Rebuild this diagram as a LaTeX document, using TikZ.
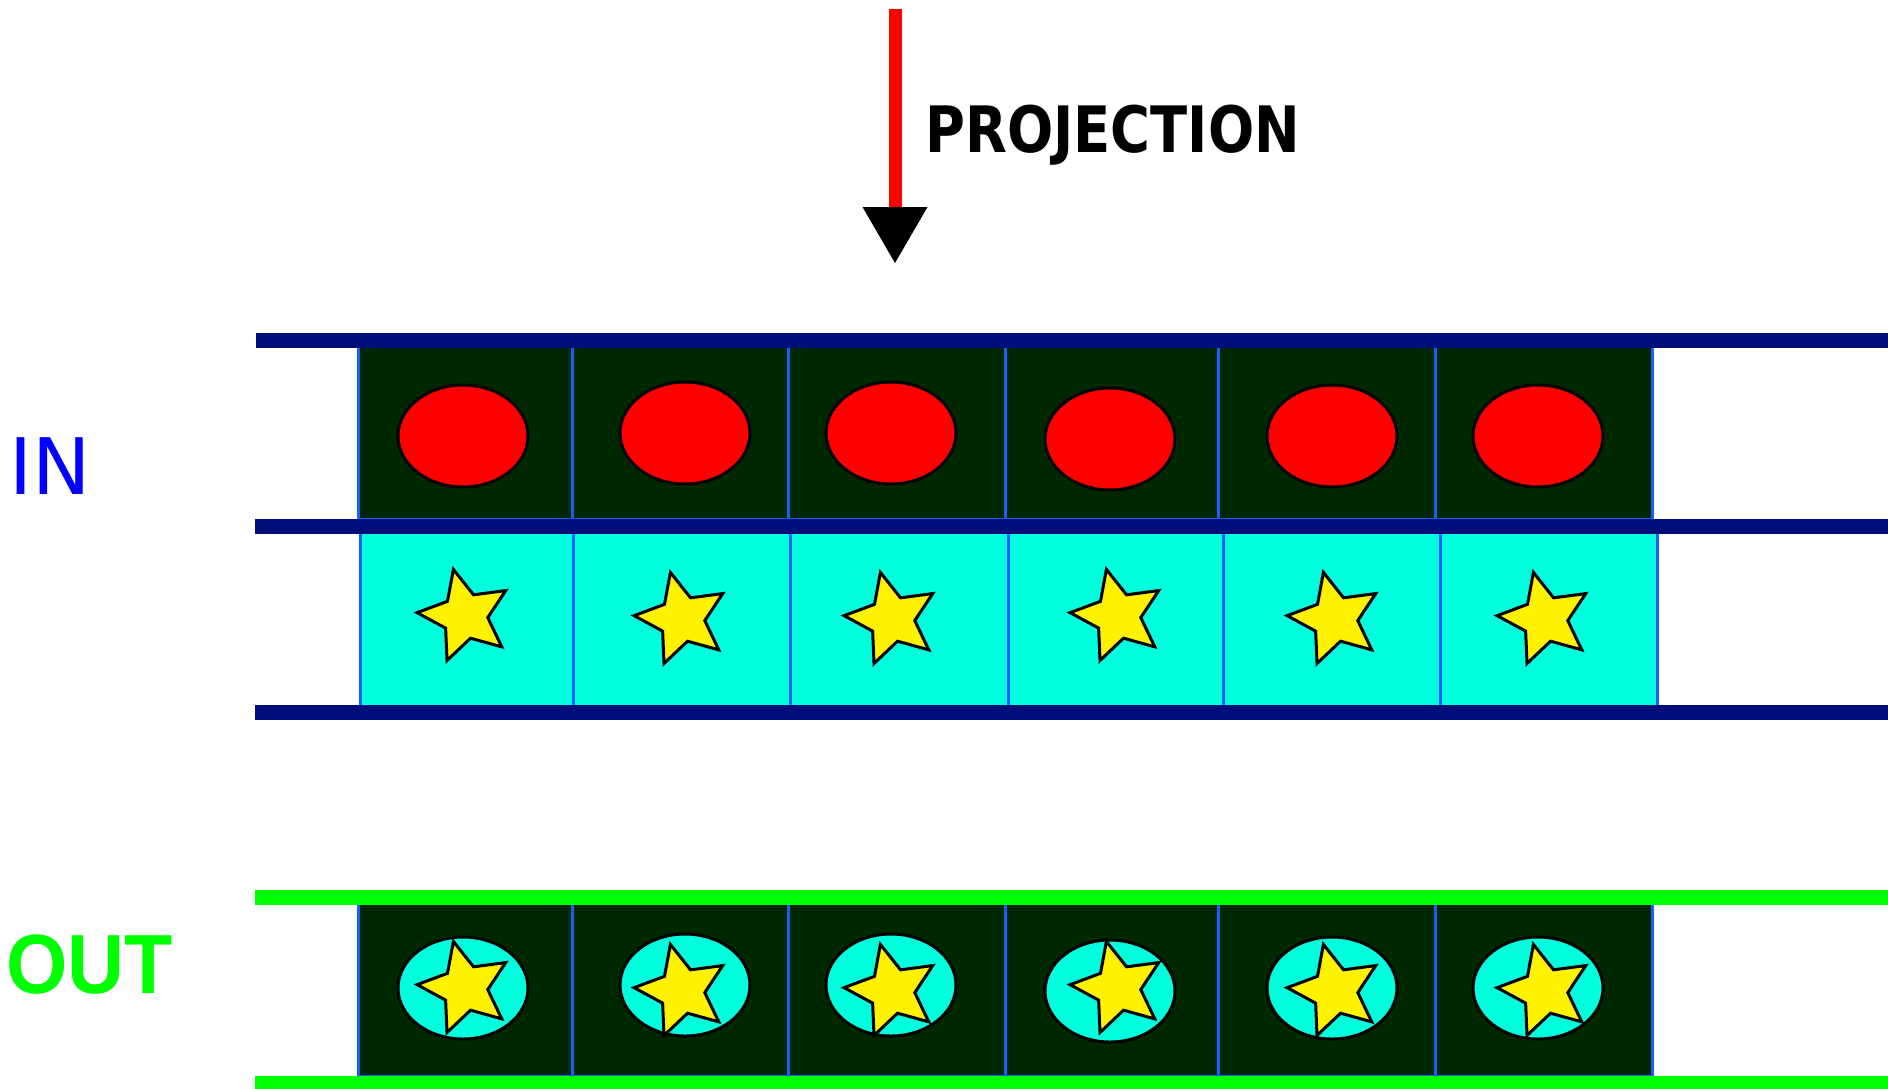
\documentclass[tikz,border=0pt]{standalone}
\usepackage{fontspec}
\usetikzlibrary{shapes.geometric,arrows.meta}
\newfontfamily\projfont[FakeStretch=0.85]{DejaVu Sans}
\newfontfamily\infont{DejaVu Sans}
\newfontfamily\outfont[FakeStretch=0.94]{Liberation Sans}
\definecolor{barnavy}{RGB}{0,14,122}
\definecolor{cellgreen}{RGB}{0,40,0}
\definecolor{cellblue}{RGB}{20,95,255}
\definecolor{cellcyan}{RGB}{0,255,221}
\definecolor{bargreen}{RGB}{0,255,0}

\begin{document}
\begin{tikzpicture}[x=0.5pt, y=-0.5pt,
	bar/.style={line width=7.5pt},
	darkcell/.style={fill=cellgreen, draw=cellblue, line width=1.5pt},
	cyancell/.style={fill=cellcyan, draw=cellblue, line width=1.5pt},
	blob/.style={ellipse, draw=black, line width=1.5pt, minimum width=65pt, minimum height=51pt, inner sep=0pt},
	starry/.style={star, star points=5, star point ratio=2.1, shape border rotate=14, minimum size=48pt, inner sep=0pt, draw=black, fill=yellow, line width=1.5pt}]
			\useasboundingbox (0,0) rectangle (1888,1088);
			\clip (0,0) rectangle (1888,1088);
			
			% Draw the projection arrow
			\coordinate (arrtop) at (895,9);
			\coordinate (arrtip) at (895,263);
			\draw[red, line width=6.5pt, -{Triangle[width=32.5pt, length=28pt, color=black, line width=0pt]}] (arrtop) -- (arrtip);
			\node[anchor=base west, inner sep=0pt, font=\projfont\bfseries\fontsize{32pt}{36pt}\selectfont] (proj) at (925,152) {PROJECTION};
			
			% Label the rows
			\node[anchor=base west, inner sep=0pt, text=blue, font=\infont\fontsize{39pt}{44pt}\selectfont] (inlabel) at (9,494) {IN};
			\node[anchor=base west, inner sep=0pt, text=bargreen, font=\outfont\bfseries\fontsize{42pt}{48pt}\selectfont] (outlabel) at (6,993) {OUT};
			
			% Draw the cells
			\foreach \a/\b in {358/572, 572/788, 788/1005, 1005/1218, 1218/1435, 1435/1652}
			{
				\draw[darkcell] (\a,341) rectangle (\b,519);
				\draw[darkcell] (\a,898) rectangle (\b,1076);
			}
			\foreach \a/\b in {360/573, 573/790, 790/1008, 1008/1223, 1223/1440, 1440/1657}
			\draw[cyancell] (\a,527) rectangle (\b,712);
			
			% Draw the red ellipses and the stars of the input
			\foreach \i/\x/\y in {1/463/436, 2/685/433, 3/891/433, 4/1110/439, 5/1332/436, 6/1538/436}
			\node[blob, fill=red] (red\i) at (\x,\y) {};
			\foreach \i/\x/\y in {1/465/616, 2/682/619, 3/892/619, 4/1118/616, 5/1335/619, 6/1545/619}
			\node[starry] (star\i) at (\x,\y) {};
			
			% Draw the projected output
			\foreach \i/\x/\y in {1/463/988, 2/685/985, 3/891/985, 4/1110/991, 5/1332/988, 6/1538/988}
			\node[blob, fill=cellcyan] (cyan\i) at (\x,\y) {};
			\foreach \i/\x/\y in {1/465/988, 2/682/991, 3/892/991, 4/1118/988, 5/1335/991, 6/1545/991}
			\node[starry] (outstar\i) at (\x,\y) {};
			
			% Draw the bars
			\draw[bar, barnavy] (256,340.5) -- (1888,340.5);
			\draw[bar, barnavy] (255,526.5) -- (1888,526.5);
			\draw[bar, barnavy] (255,712.5) -- (1888,712.5);
			\draw[bar, bargreen] (255,897.5) -- (1888,897.5);
			\draw[bar, bargreen] (255,1083.5) -- (1888,1083.5);
		\end{tikzpicture}
\end{document}
